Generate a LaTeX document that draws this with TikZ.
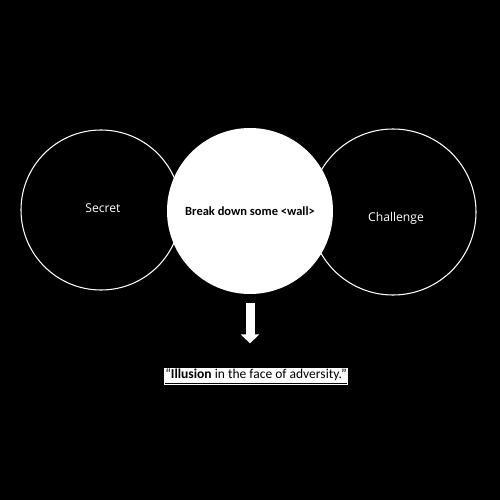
\documentclass[tikz,border=0pt]{standalone}
\usepackage{fontspec}
\setmainfont{Carlito}
\newfontfamily\ringfont{Open Sans}
\usetikzlibrary{arrows.meta}

\begin{document}
\begin{tikzpicture}[x=0.2mm,y=-0.2mm,
  ring/.style={circle,draw=white,line width=0.6pt,inner sep=0pt},
  ringtext/.style={text=white,font=\ringfont\fontsize{6.9}{8}\selectfont},
  hub/.style={circle,fill=white,minimum size=33.2mm,inner sep=0pt,font=\bfseries\fontsize{7.1}{8}\selectfont},
  down/.style={-{Triangle[width=3.6mm,length=1.8mm]},white,line width=1.8mm}]
  \fill[black] (0,0) rectangle (500,500);
  \useasboundingbox (0,0) rectangle (500,500);
  \node[ring,minimum size=32mm] (secret) at (101,210) {};
  \node[ring,minimum size=33.2mm] (challenge) at (393,212) {};
  \node[ringtext] (secrettext) at (103,208) {Secret};
  \node[ringtext] (challengetext) at (396,218) {Challenge};
  \node[hub] (wall) at (250,211) {Break down some <wall>};
  \node[fill=white,inner xsep=0.8pt,inner ysep=0pt,minimum height=3.5mm,
    font=\fontsize{7.7}{9}\selectfont] (quote) at (256,376.5)
    {\underline{“\textbf{Illusion} in the face of adversity.”}};
  \draw[down,shorten <=1.8mm,shorten >=4.8mm] (wall.south) -- (wall.south |- quote.north);
\end{tikzpicture}
\end{document}
